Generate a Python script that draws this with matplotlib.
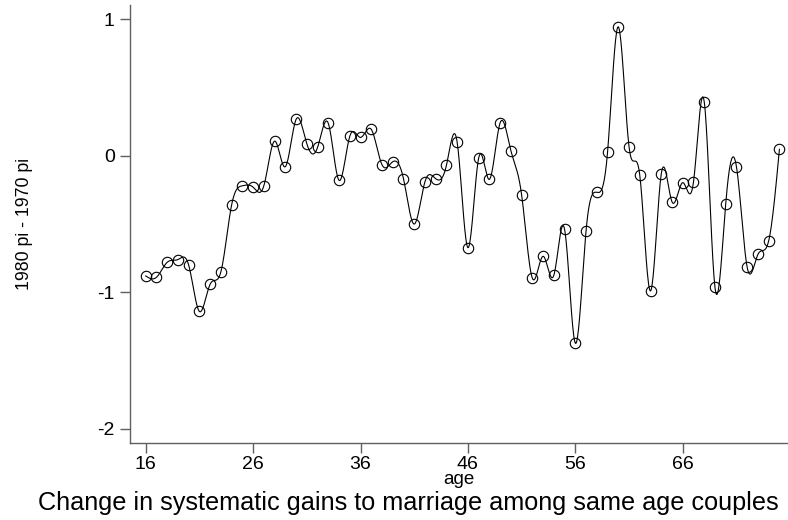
import numpy as np
import matplotlib
matplotlib.use("Agg")
import matplotlib.pyplot as plt

# --- Data ---
ages = list(range(16, 76))
diff = [-0.88, -0.89, -0.78, -0.76, -0.80, -1.14, -0.94, -0.85, -0.36, -0.22,
        -0.23, -0.22, 0.107, -0.08, 0.266, 0.088, 0.061, 0.237, -0.18, 0.142,
        0.134, 0.193, -0.066, -0.044, -0.168, -0.50, -0.19, -0.168, -0.07, 0.098,
        -0.673, -0.017, -0.173, 0.241, 0.037, -0.287, -0.897, -0.736, -0.875, -0.539,
        -1.372, -0.548, -0.268, 0.027, 0.944, 0.066, -0.143, -0.99, -0.134, -0.337,
        -0.197, -0.192, 0.395, -0.963, -0.353, -0.08, -0.817, -0.722, -0.624, 0.047]
xticks = [16, 26, 36, 46, 56, 66]
yticks = [-2, -1, 0, 1]

FONT = ["Liberation Sans", "DejaVu Sans"]


def natural_spline(x, y, n=20):
    # natural cubic spline through the points, used only to draw the connecting line
    x = np.asarray(x, float)
    y = np.asarray(y, float)
    h = np.diff(x)
    m = len(x)
    A = np.zeros((m, m))
    b = np.zeros(m)
    A[0, 0] = A[-1, -1] = 1.0
    for i in range(1, m - 1):
        A[i, i - 1] = h[i - 1]
        A[i, i] = 2 * (h[i - 1] + h[i])
        A[i, i + 1] = h[i]
        b[i] = 6 * ((y[i + 1] - y[i]) / h[i] - (y[i] - y[i - 1]) / h[i - 1])
    M = np.linalg.solve(A, b)
    xs, ys = [], []
    for i in range(m - 1):
        t = np.linspace(x[i], x[i + 1], n, endpoint=False)
        a = (x[i + 1] - t) / h[i]
        c = (t - x[i]) / h[i]
        s = (a * y[i] + c * y[i + 1]
             + ((a ** 3 - a) * M[i] + (c ** 3 - c) * M[i + 1]) * h[i] ** 2 / 6)
        xs.append(t)
        ys.append(s)
    xs.append([x[-1]])
    ys.append([y[-1]])
    return np.concatenate(xs), np.concatenate(ys)


fig = plt.figure(figsize=(7.88, 5.2), dpi=100)
ax = fig.add_axes([0.165, 0.1475, 0.835, 0.8425])

sx, sy = natural_spline(ages, diff)
ax.plot(sx, sy, color="black", lw=0.8)
ax.plot(ages, diff, linestyle="none", marker="o", ms=7.5, mfc="none",
        mec="black", mew=0.8)

ax.set_xlim(14.54, 75.8)
ax.set_ylim(-2.105, 1.102)
ax.set_xticks(xticks)
ax.set_yticks(yticks)
ax.set_xticklabels([str(t) for t in xticks], family=FONT, fontsize=14)
ax.set_yticklabels([str(t) for t in yticks], family=FONT, fontsize=14)
ax.tick_params(direction="out", length=7, width=1.0, color="#606060")
ax.tick_params(axis="x", pad=2)
ax.tick_params(axis="y", pad=4)

for side in ["top", "right"]:
    ax.spines[side].set_visible(False)
for side in ["left", "bottom"]:
    ax.spines[side].set_color("#606060")
    ax.spines[side].set_linewidth(1.0)

ax.set_xlabel("age", family=FONT, fontsize=13.5, labelpad=-1)
ax.set_ylabel("1980 pi - 1970 pi", family=FONT, fontsize=12.8, labelpad=46)

fig.text(0.518, 0.02, "Change in systematic gains to marriage among same age couples",
         family=FONT, fontsize=18.2, ha="center", va="baseline")

fig.savefig("out.png", dpi=100)
